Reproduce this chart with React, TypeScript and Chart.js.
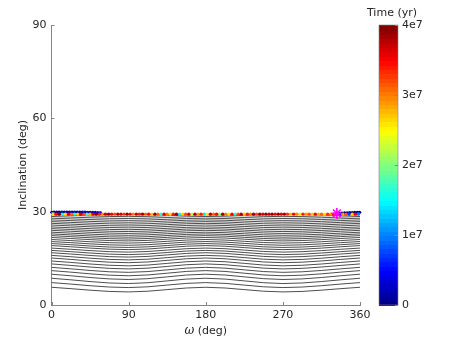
import React, { useEffect, useRef } from "react";
import { Chart, registerables } from "chart.js";

Chart.register(...registerables);

// ---------- data ----------
const xTicks = [0, 90, 180, 270, 360];
const yTicks = [0, 30, 60, 90];
const colorbarTicks = [0, 1e7, 2e7, 3e7, 4e7];
const colorbarLabels = ["0", "1e7", "2e7", "3e7", "4e7"];
const timeMin = 0;
const timeMax = 4e7;

// contour lines: inclination (deg) at omega = 0/180/360 (peaks) and 90/270 (troughs)
const contourPeak = [
  29.0, 28.45, 27.9, 27.35, 26.8, 26.25, 25.7, 25.1, 24.55, 24.0, 23.4, 22.85,
  22.3, 21.7, 21.05, 20.4, 19.75, 19.1, 18.3, 17.55, 16.8, 15.95, 15.1, 14.15,
  13.2, 12.1, 11.05, 9.9, 8.6, 7.2, 5.7,
];
const contourTrough = [
  28.4, 27.8, 27.2, 26.6, 26.0, 25.4, 24.8, 24.2, 23.6, 23.0, 22.4, 21.8, 21.2,
  20.6, 19.9, 19.2, 18.5, 17.8, 17.0, 16.2, 15.4, 14.5, 13.6, 12.6, 11.6, 10.5,
  9.4, 8.2, 6.9, 5.6, 4.2,
];
const peakOmegas = [0, 180, 360];
const troughOmegas = [90, 270];

// trajectory samples: [omega (deg), inclination (deg), time (1e7 yr)]
const initialTrack: [number, number, number][] = [
  [336, 29.45, 0.0], [339, 29.5, 0.01], [342, 29.55, 0.02], [345, 29.6, 0.03],
  [348, 29.65, 0.04], [351, 29.7, 0.05], [354, 29.72, 0.06], [357, 29.75, 0.07],
  [359.5, 29.78, 0.08], [0.5, 29.78, 0.09], [3, 29.8, 0.1], [6, 29.8, 0.11],
  [9, 29.8, 0.12], [12, 29.8, 0.13], [15, 29.8, 0.14], [18, 29.8, 0.15],
  [21, 29.8, 0.16], [24, 29.8, 0.17], [27, 29.8, 0.18], [30, 29.8, 0.19],
  [33, 29.8, 0.2], [36, 29.8, 0.21], [39, 29.8, 0.22], [42, 29.78, 0.24],
  [45, 29.78, 0.27], [48, 29.75, 0.32], [51, 29.72, 0.4], [54, 29.7, 0.5],
  [57, 29.68, 0.6],
];
const laterTrack: [number, number, number][] = [
  [1.8, 29.2, 2.6], [5.4, 29.2, 3.5], [9.0, 29.2, 3.9], [12.6, 29.2, 1.5],
  [16.2, 29.2, 2.6], [19.8, 29.2, 3.5], [23.4, 29.2, 3.1], [27.0, 29.2, 1.6],
  [30.6, 29.2, 2.7], [34.2, 29.2, 3.6], [37.8, 29.2, 3.2], [41.4, 29.2, 1.7],
  [45.0, 29.2, 2.8], [48.6, 29.2, 3.6], [52.2, 29.2, 3.9], [55.8, 29.2, 3.4],
  [59.4, 29.2, 3.0], [63.0, 29.2, 3.7], [66.6, 29.2, 3.9], [70.2, 29.2, 3.5],
  [73.8, 29.2, 3.2], [77.4, 29.2, 3.8], [81.0, 29.2, 3.6], [84.6, 29.2, 3.3],
  [88.2, 29.2, 3.9], [91.8, 29.2, 3.5], [95.4, 29.2, 3.0], [99.0, 29.2, 3.7],
  [102.6, 29.2, 3.4], [106.2, 29.2, 3.9], [109.8, 29.2, 3.1], [113.4, 29.2, 3.5],
  [117.0, 29.2, 2.7], [120.6, 29.2, 3.9], [124.2, 29.2, 3.1], [127.8, 29.2, 1.6],
  [131.4, 29.2, 3.6], [135.0, 29.2, 3.0], [138.6, 29.2, 2.6], [142.2, 29.2, 3.4],
  [145.8, 29.2, 3.9], [149.4, 29.2, 1.5], [153.0, 29.2, 2.7], [156.6, 29.2, 3.2],
  [160.2, 29.2, 3.6], [163.8, 29.2, 2.2], [167.4, 29.2, 3.8], [171.0, 29.2, 2.9],
  [174.6, 29.2, 3.4], [178.2, 29.2, 1.4], [181.8, 29.2, 2.6], [185.4, 29.2, 3.8],
  [189.0, 29.2, 3.1], [192.6, 29.2, 3.5], [196.2, 29.2, 2.0], [199.8, 29.2, 3.9],
  [203.4, 29.2, 3.0], [207.0, 29.2, 2.6], [210.6, 29.2, 3.5], [214.2, 29.2, 1.6],
  [217.8, 29.2, 3.2], [221.4, 29.2, 3.8], [225.0, 29.2, 2.7], [228.6, 29.2, 3.4],
  [232.2, 29.2, 3.0], [235.8, 29.2, 3.9], [239.4, 29.2, 3.2], [243.0, 29.2, 3.9],
  [246.6, 29.2, 3.6], [250.2, 29.2, 3.9], [253.8, 29.2, 3.7], [257.4, 29.2, 3.9],
  [261.0, 29.2, 3.5], [264.6, 29.2, 3.9], [268.2, 29.2, 3.6], [271.8, 29.2, 3.8],
  [275.4, 29.2, 3.3], [279.0, 29.2, 2.8], [282.6, 29.2, 3.5], [286.2, 29.2, 3.0],
  [289.8, 29.2, 2.6], [293.4, 29.2, 3.4], [297.0, 29.2, 2.9], [300.6, 29.2, 3.2],
  [304.2, 29.2, 2.7], [307.8, 29.2, 3.5], [311.4, 29.2, 2.8], [315.0, 29.2, 3.1],
  [318.6, 29.2, 2.6], [322.2, 29.2, 3.3], [325.8, 29.2, 2.9], [329.4, 29.2, 3.4],
  [336.6, 29.25, 0.5], [340.2, 29.2, 2.8], [343.8, 29.2, 3.2], [347.4, 29.25, 0.7],
  [351.0, 29.2, 2.7], [354.6, 29.2, 3.5], [358.2, 29.25, 1.0],
];
const startOmega = [333];
const startInc = [29.45];

// ---------- helpers ----------
function jet(v: number): string {
  const c = (x: number) => Math.max(0, Math.min(1, x));
  const r = c(1.5 - Math.abs(4 * v - 3));
  const g = c(1.5 - Math.abs(4 * v - 2));
  const b = c(1.5 - Math.abs(4 * v - 1));
  return `rgb(${Math.round(r * 255)},${Math.round(g * 255)},${Math.round(b * 255)})`;
}

const FONT = "'DejaVu Sans', sans-serif";
const TEXT = "#262626";
const AXIS = "#858585";

const decorations = {
  id: "decorations",
  afterDraw(chart: any) {
    const ctx: CanvasRenderingContext2D = chart.ctx;
    const xs = chart.scales.x;
    const ys = chart.scales.y;
    const area = chart.chartArea;
    ctx.save();
    // inward tick marks
    ctx.strokeStyle = AXIS;
    ctx.lineWidth = 1;
    ctx.beginPath();
    xTicks.forEach((t) => {
      const px = Math.round(xs.getPixelForValue(t)) + 0.5;
      ctx.moveTo(px, area.bottom);
      ctx.lineTo(px, area.bottom - 3);
    });
    yTicks.forEach((t) => {
      const py = Math.round(ys.getPixelForValue(t)) + 0.5;
      ctx.moveTo(area.left, py);
      ctx.lineTo(area.left + 3, py);
    });
    ctx.stroke();

    // y title
    ctx.fillStyle = TEXT;
    ctx.font = `11px ${FONT}`;
    ctx.textAlign = "center";
    ctx.textBaseline = "middle";
    ctx.save();
    ctx.translate(23, (area.top + area.bottom) / 2);
    ctx.rotate(-Math.PI / 2);
    ctx.fillText("Inclination (deg)", 0, 0);
    ctx.restore();

    // x title: italic omega + (deg)
    const omegaFont = `italic 12px 'DejaVu Serif', serif`;
    const restFont = `11px ${FONT}`;
    ctx.font = omegaFont;
    const w1 = ctx.measureText("ω").width;
    ctx.font = restFont;
    const w2 = ctx.measureText(" (deg)").width;
    const cx = (area.left + area.right) / 2;
    const sx = cx - (w1 + w2) / 2;
    ctx.textAlign = "left";
    ctx.font = omegaFont;
    ctx.fillText("ω", sx, 331);
    ctx.font = restFont;
    ctx.fillText(" (deg)", sx + w1, 331);

    // colorbar
    const cbL = 379, cbR = 398, cbT = area.top, cbB = area.bottom;
    const n = 64;
    const h = (cbB - cbT) / n;
    for (let k = 0; k < n; k++) {
      ctx.fillStyle = jet((k + 0.5) / n);
      const y0 = cbB - (k + 1) * h;
      ctx.fillRect(cbL, Math.floor(y0), cbR - cbL, Math.ceil(h) + 1);
    }
    ctx.strokeStyle = AXIS;
    ctx.lineWidth = 0.6;
    ctx.strokeRect(cbL, cbT, cbR - cbL, cbB - cbT);
    ctx.beginPath();
    ctx.lineWidth = 1;
    ctx.fillStyle = TEXT;
    ctx.font = `11px ${FONT}`;
    ctx.textAlign = "left";
    ctx.textBaseline = "middle";
    colorbarTicks.forEach((t, i) => {
      const py = cbB - ((t - timeMin) / (timeMax - timeMin)) * (cbB - cbT);
      const ry = Math.round(py) + 0.5;
      ctx.moveTo(cbR, ry);
      ctx.lineTo(cbR - 3, ry);
      ctx.fillText(colorbarLabels[i], cbR + 4, py);
    });
    ctx.stroke();
    ctx.textAlign = "center";
    ctx.fillText("Time (yr)", 392, 13);
    ctx.restore();
  },
};

export default function App() {
  const ref = useRef<HTMLCanvasElement | null>(null);
  useEffect(() => {
    document.body.style.margin = "0";
    const canvas = ref.current;
    if (!canvas) return;

    const contourSets = contourPeak.map((p, i) => {
      const pts = [
        ...peakOmegas.map((x) => ({ x, y: p })),
        ...troughOmegas.map((x) => ({ x, y: contourTrough[i] })),
      ].sort((a, b) => a.x - b.x);
      return {
        type: "line" as const,
        data: pts,
        borderColor: "#000000",
        borderWidth: 0.7,
        pointRadius: 0,
        fill: false,
        cubicInterpolationMode: "monotone" as const,
        order: 3,
      };
    });

    const track = [...initialTrack, ...laterTrack].sort((a, b) => a[2] - b[2]);
    const trackData = track.map((d) => ({ x: d[0], y: d[1] }));
    const trackColors = track.map((d) => jet((d[2] * 1e7 - timeMin) / (timeMax - timeMin)));

    const chart = new Chart(canvas, {
      type: "scatter",
      data: {
        datasets: [
          {
            data: startOmega.map((x, i) => ({ x, y: startInc[i] })),
            pointStyle: "star",
            pointRadius: 5.5,
            borderColor: "#ff00ff",
            backgroundColor: "#ff00ff",
            borderWidth: 1.6,
            order: 1,
            clip: false,
          } as any,
          {
            data: trackData,
            pointStyle: "circle",
            pointRadius: 1.7,
            borderWidth: 0,
            backgroundColor: trackColors,
            order: 2,
            clip: 3,
          } as any,
          ...contourSets,
        ],
      },
      options: {
        responsive: false,
        animation: false,
        events: [],
        layout: { padding: { top: 25, right: 97, left: 0, bottom: 0 } },
        plugins: {
          legend: { display: false },
          tooltip: { enabled: false },
        },
        scales: {
          x: {
            type: "linear",
            min: 0,
            max: 360,
            afterBuildTicks: (s: any) => {
              s.ticks = xTicks.map((v) => ({ value: v }));
            },
            afterFit: (s: any) => {
              s.height = 38;
            },
            grid: { display: false, drawTicks: false },
            border: { display: true, color: AXIS, width: 1 },
            ticks: {
              color: TEXT,
              font: { family: FONT, size: 11 },
              padding: 4,
              autoSkip: false,
              maxRotation: 0,
            },
          },
          y: {
            type: "linear",
            min: 0,
            max: 90,
            afterBuildTicks: (s: any) => {
              s.ticks = yTicks.map((v) => ({ value: v }));
            },
            afterFit: (s: any) => {
              s.width = 51.5;
            },
            grid: { display: false, drawTicks: false },
            border: { display: true, color: AXIS, width: 1 },
            ticks: {
              color: TEXT,
              font: { family: FONT, size: 11 },
              padding: 5,
              autoSkip: false,
            },
          },
        },
      },
      plugins: [decorations],
    });
    return () => chart.destroy();
  }, []);
  return (
    <div style={{ width: 457, height: 343, background: "#fff" }}>
      <canvas ref={ref} width={457} height={343} style={{ display: "block" }} />
    </div>
  );
}
